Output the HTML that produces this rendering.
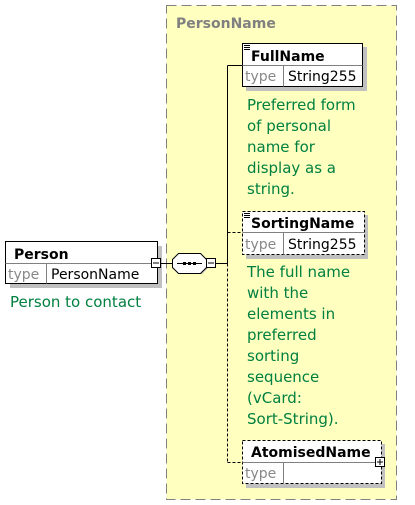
<!DOCTYPE html>
<html><head><meta charset="utf-8"><style>
html,body{margin:0;padding:0;background:#fff;width:415px;height:505px;overflow:hidden}
svg{display:block}
text{font-family:"DejaVu Sans",sans-serif}
.b{font-weight:bold;font-size:14px;fill:#000}
.t{font-size:14px;fill:#888}
.v{font-size:14px;fill:#000}
.g{font-size:15px;fill:#008040}
</style></head><body>
<svg width="415" height="505" viewBox="0 0 415 505" xmlns="http://www.w3.org/2000/svg">
<rect x="166.5" y="5.5" width="230" height="494" fill="#ffffc0" stroke="#808080" stroke-dasharray="10,5"/>
<text x="176" y="28" font-size="14" font-weight="bold" fill="#808080" style="font-family:'DejaVu Sans',sans-serif">PersonName</text>

<!-- Person -->
<rect x="10" y="246" width="152" height="42" fill="#c0c0c0"/>
<rect x="5.5" y="241.5" width="152" height="42" fill="#fff" stroke="#000"/>
<line x1="5.5" y1="263.5" x2="157.5" y2="263.5" stroke="#808080"/>
<line x1="46.5" y1="263.5" x2="46.5" y2="283.5" stroke="#808080"/>
<text class="b" x="14" y="259">Person</text>
<text class="t" x="8" y="279">type</text>
<text class="v" x="51" y="279">PersonName</text>
<text class="g" x="10" y="307">Person to contact</text>
<rect x="151.5" y="258.5" width="9" height="9" fill="#fff" stroke="#000"/>
<line x1="153" y1="263" x2="159" y2="263" stroke="#000"/>
<line x1="160.5" y1="263.5" x2="172.5" y2="263.5" stroke="#000"/>

<!-- sequence -->
<polygon points="180,256 202,256 208,262 208,268 202,274 180,274 174,268 174,262" fill="#c0c0c0"/>
<polygon points="178.5,253.5 200.5,253.5 206.5,259.5 206.5,267.5 200.5,273.5 178.5,273.5 172.5,267.5 172.5,259.5" fill="#fff" stroke="#000"/>
<line x1="177" y1="263.5" x2="202" y2="263.5" stroke="#000"/>
<rect x="183" y="262" width="3" height="3" fill="#000"/><rect x="188" y="262" width="3" height="3" fill="#000"/><rect x="193" y="262" width="3" height="3" fill="#000"/>
<rect x="206.5" y="258.5" width="9" height="9" fill="#fff" stroke="#000"/>
<line x1="208" y1="263" x2="214" y2="263" stroke="#000"/>
<line x1="215.5" y1="263.5" x2="227.5" y2="263.5" stroke="#000"/>

<!-- connectors -->
<line x1="227.5" y1="65.5" x2="227.5" y2="263.5" stroke="#000"/>
<line x1="227.5" y1="263.5" x2="227.5" y2="462.5" stroke="#000" stroke-dasharray="3,2"/>
<line x1="227.5" y1="65.5" x2="242.5" y2="65.5" stroke="#000"/>
<line x1="227.5" y1="232.5" x2="242.5" y2="232.5" stroke="#000" stroke-dasharray="3,2"/>
<line x1="227.5" y1="462.5" x2="242.5" y2="462.5" stroke="#000" stroke-dasharray="3,2"/>

<!-- FullName -->
<rect x="246" y="47" width="121" height="44" fill="#c0c0c0"/>
<rect x="242.5" y="43.5" width="120" height="43" fill="#fff" stroke="#000"/>
<line x1="242.5" y1="65.5" x2="362.5" y2="65.5" stroke="#808080"/>
<line x1="283.5" y1="65.5" x2="283.5" y2="86.5" stroke="#808080"/>
<line x1="244" y1="45.5" x2="250" y2="45.5" stroke="#000"/><line x1="244" y1="47.5" x2="250" y2="47.5" stroke="#000"/><line x1="244" y1="49.5" x2="250" y2="49.5" stroke="#000"/>
<text class="b" x="251" y="61">FullName</text>
<text class="t" x="245" y="81">type</text>
<text class="v" x="288" y="81">String255</text>
<text class="g" x="247" y="110">Preferred form</text>
<text class="g" x="247" y="131">of personal</text>
<text class="g" x="247" y="152">name for</text>
<text class="g" x="247" y="173">display as a</text>
<text class="g" x="247" y="194">string.</text>

<!-- SortingName -->
<rect x="246" y="215" width="122" height="44" fill="#c0c0c0"/>
<rect x="242.5" y="211.5" width="122" height="43" fill="#fff" stroke="#000" stroke-dasharray="3,2"/>
<line x1="242.5" y1="232.5" x2="364.5" y2="232.5" stroke="#808080"/>
<line x1="283.5" y1="232.5" x2="283.5" y2="254.5" stroke="#808080"/>
<line x1="244" y1="213.5" x2="250" y2="213.5" stroke="#000"/><line x1="244" y1="215.5" x2="250" y2="215.5" stroke="#000"/><line x1="244" y1="217.5" x2="250" y2="217.5" stroke="#000"/>
<text class="b" x="251" y="228">SortingName</text>
<text class="t" x="245" y="249">type</text>
<text class="v" x="288" y="249">String255</text>
<text class="g" x="247" y="277">The full name</text>
<text class="g" x="247" y="298">with the</text>
<text class="g" x="247" y="319">elements in</text>
<text class="g" x="247" y="340">preferred</text>
<text class="g" x="247" y="361">sorting</text>
<text class="g" x="247" y="382">sequence</text>
<text class="g" x="247" y="403">(vCard:</text>
<text class="g" x="247" y="424">Sort-String).</text>

<!-- AtomisedName -->
<rect x="246" y="444" width="139" height="44" fill="#c0c0c0"/>
<rect x="242.5" y="440.5" width="139" height="43" fill="#fff" stroke="#000" stroke-dasharray="3,2"/>
<line x1="242.5" y1="462.5" x2="381.5" y2="462.5" stroke="#808080"/>
<line x1="283.5" y1="462.5" x2="283.5" y2="483.5" stroke="#808080"/>
<text class="b" x="251" y="457">AtomisedName</text>
<text class="t" x="245" y="478">type</text>
<rect x="375.5" y="457.5" width="9" height="9" fill="#fff" stroke="#000"/>
<line x1="377" y1="462" x2="383" y2="462" stroke="#000"/>
<line x1="380" y1="459" x2="380" y2="465" stroke="#000"/>
</svg>
</body></html>
